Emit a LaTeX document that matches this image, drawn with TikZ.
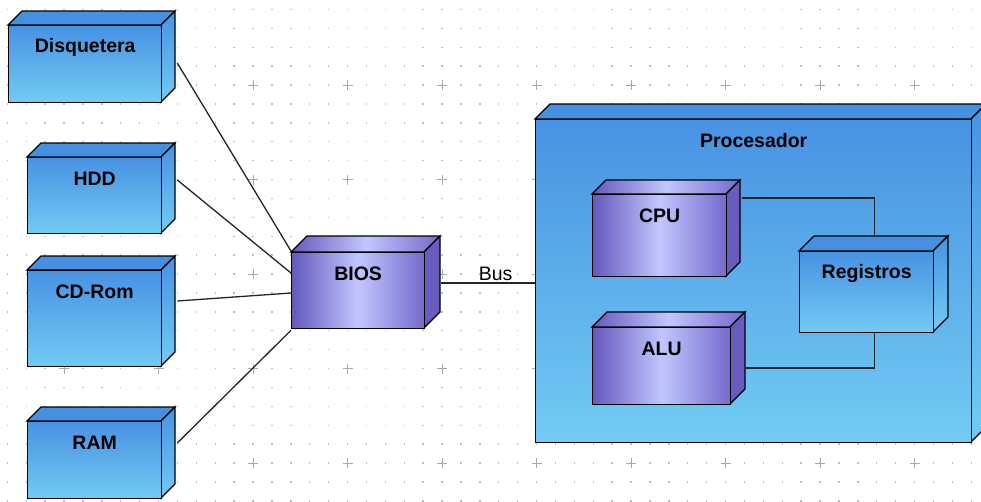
\documentclass[tikz,border=0pt]{standalone}
\usepackage{fontspec}
\setmainfont{Liberation Sans}
\usetikzlibrary{calc}
\definecolor{btop}{RGB}{72,146,226}
\definecolor{bbot}{RGB}{114,203,243}
\definecolor{btopface}{RGB}{70,144,224}
\definecolor{pleft}{RGB}{100,88,188}
\definecolor{pmid}{RGB}{194,198,255}
\definecolor{pright}{RGB}{116,106,204}
\definecolor{pside}{RGB}{104,92,190}
\definecolor{griddot}{RGB}{190,190,190}
\definecolor{gridplus}{RGB}{170,170,170}
\tikzset{
  x=1pt, y=-1pt,
  edge/.style={draw=black, line width=1.3pt, line join=miter},
  bluefront/.style={edge, top color=btop, bottom color=bbot, inner sep=0pt},
  bluetop/.style={edge, fill=btopface},
  blueside/.style={edge, top color=btop, bottom color=bbot},
  purplefront/.style={edge, left color=pleft, right color=pright, middle color=pmid, inner sep=0pt},
  purpletop/.style={edge, left color=pleft, right color=pright, middle color=pmid},
  purpleside/.style={edge, fill=pside},
  lbl/.style={font=\bfseries\fontsize{19.5}{23}\selectfont, inner sep=0pt},
  conn/.style={draw=black!85, line width=1.3pt},
}
\newcommand{\depbox}[8]{%
  \path[#7top] (#2,#3) -- ++(#6,-#6) -- (#4+#6,#3-#6) -- (#4,#3) -- cycle;
  \path[#7side] (#4,#3) -- ++(#6,-#6) -- (#4+#6,#5-#6) -- (#4,#5) -- cycle;
  \node[#7front, minimum width={#4-#2}, minimum height={#5-#3}, anchor=north west] (#1) at (#2,#3) {};
  \node[lbl] (#1-lbl) at ($(#1.north)+(0,22)$) {#8};
}
\begin{document}
\begin{tikzpicture}
\useasboundingbox (0,0) rectangle (981,501);
\fill[white] (0,0) rectangle (981,501);
% grid
\foreach \i in {0,...,51} {
  \foreach \j in {0,...,26} {
    \pgfmathsetmacro{\gx}{7.3+18.9*\i}
    \pgfmathsetmacro{\gy}{9.4+18.9*\j}
    \fill[griddot] (\gx-0.7,\gy-0.7) rectangle (\gx+0.7,\gy+0.7);
  }
}
\foreach \i in {3,8,...,51} {
  \foreach \j in {4,9,...,26} {
    \pgfmathsetmacro{\gx}{7.3+18.9*\i}
    \pgfmathsetmacro{\gy}{9.4+18.9*\j}
    \draw[gridplus, line width=0.9pt] (\gx-5,\gy) -- (\gx+5,\gy) (\gx,\gy-5) -- (\gx,\gy+5);
  }
}
% outer nodes
\depbox{disq}{8}{25}{161}{102}{14}{blue}{Disquetera}
\depbox{hdd}{27}{157}{161}{233}{14}{blue}{HDD}
\depbox{cdrom}{27}{270}{161}{366}{14}{blue}{CD-Rom}
\depbox{ram}{27}{421}{161}{498}{14}{blue}{RAM}
\depbox{bios}{291}{252}{424}{328}{16}{purple}{BIOS}
% processor
\depbox{proc}{535}{119}{971}{442}{15}{blue}{Procesador}
\depbox{cpu}{592}{194}{726}{276}{14}{purple}{CPU}
\depbox{alu}{592}{327}{730}{404}{15}{purple}{ALU}
\depbox{reg}{799}{251}{933}{332}{15}{blue}{Registros}
% connectors
\draw[conn] ($(disq.north east)+(15,38)$) -- ($(bios.north west)+(0,-1)$);
\draw[conn] ($(hdd.north east)+(15,23)$) -- ($(bios.north west)+(0,21)$);
\draw[conn] ($(cdrom.north east)+(15,31)$) -- ($(bios.north west)+(0,41)$);
\draw[conn] ($(ram.north east)+(15,22)$) -- ($(bios.south west)+(0,1)$);
\draw[conn] ($(bios.north east)+(16,31)$) -- node[pos=0.58, above=2pt, inner sep=0pt, font=\fontsize{19.5}{23}\selectfont] (buslbl) {Bus} ($(proc.north west)+(0,164)$);
\draw[conn] ($(cpu.north east)+(15,4)$) -| ($(reg.north)+(8,-15)$);
\draw[conn] ($(alu.north east)+(15,41)$) -| ($(reg.south)+(8,0)$);
\end{tikzpicture}
\end{document}
